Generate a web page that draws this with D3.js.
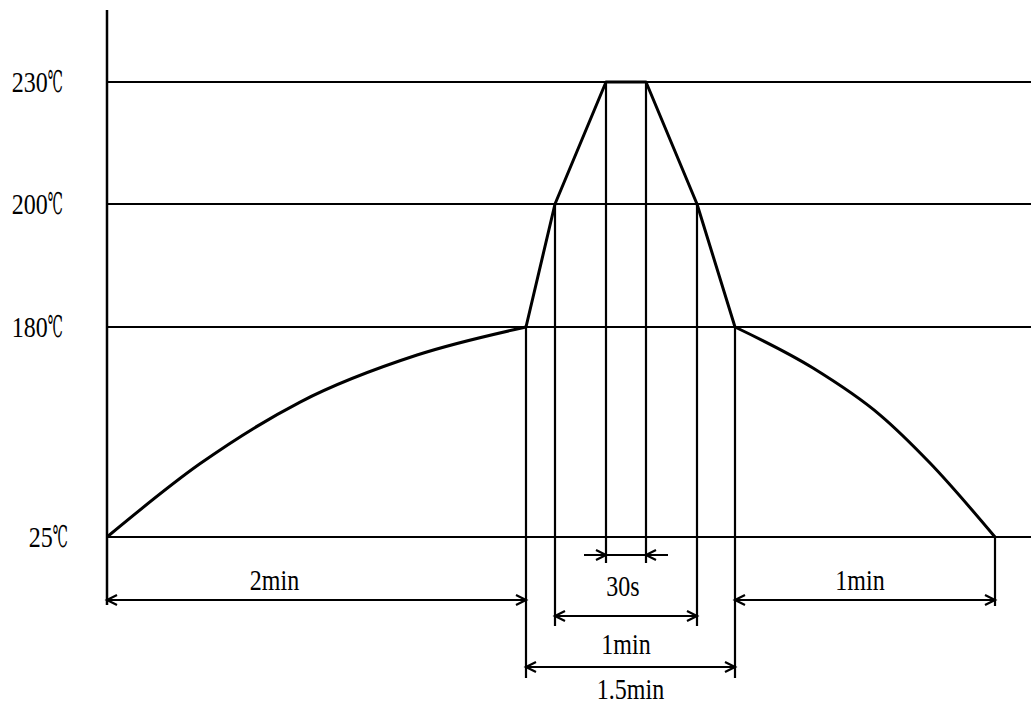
<!DOCTYPE html>
<html>
<head>
<meta charset="utf-8">
<script src="https://cdn.jsdelivr.net/npm/d3@7"></script>
<style>
  html, body { margin: 0; padding: 0; background: #fff; }
  svg { display: block; }
  text { font-family: "Liberation Serif", "DejaVu Serif", serif; fill: #000; }
</style>
</head>
<body>
<svg id="chart" width="1031" height="707"></svg>
<script>
// ---------------- data ----------------
// temperature levels (°C) shown as reference lines
const tempLevels = [230, 200, 180, 25];
const tempLabels = ["230", "200", "180", "25"];
const tempUnit = "℃";

// key times along the profile (seconds)
const keyTimes = [0, 120, 135, 150, 180, 195, 210, 270];

// heating curve 25℃ -> 180℃ over 2 min
const heatTime = [0, 26.6, 55.3, 88.8, 120];
const heatTemp = [25, 79, 124.6, 159.3, 180];

// peak zone (linear segments)
const peakTime = [120, 135, 150, 180, 195, 210];
const peakTemp = [180, 200, 230, 230, 200, 180];

// cooling curve 180℃ -> 25℃ over 1 min
const coolTime = [210, 228, 243.5, 255, 270];
const coolTemp = [180, 149.7, 115, 79.6, 25];

// dimension markers
const dimFrom  = [0, 150, 135, 120, 210];
const dimTo    = [120, 180, 195, 210, 270];
const dimLabel = ["2min", "30s", "1min", "1.5min", "1min"];

// guide lines: time and the temperature where they start
const guideTime = [120, 135, 150, 180, 195, 210, 270];
const guideTemp = [180, 200, 230, 230, 200, 180, 25];

// ---------------- layout ----------------
const W = 1031, H = 707;
const svg = d3.select("#chart");

// schematic (not-to-scale) piecewise scales
const x = d3.scaleLinear().domain(keyTimes).range([107, 526, 555, 606, 646, 697, 735, 995]);
const y = d3.scaleLinear().domain([25, 180, 200, 230]).range([537, 327, 204, 82]);

// dimension rows (pixel y of each arrow) and label placement
const dimRowY   = [600, 555, 616, 667, 600];
const dimLabelDy = [-10, 41, 38, 32, -10];
const dimLabelDx = [-42, -3, 0, 0, -5];
const dimInward = [false, true, false, false, false];
// guide bottoms
const guideBottom = [678, 626, 563, 563, 626, 678, 606];

const fontSize = 30, sx = 0.8;

// horizontal reference lines
svg.append("g").selectAll("line").data(tempLevels).join("line")
  .attr("x1", x(0)).attr("x2", W)
  .attr("y1", d => y(d)).attr("y2", d => y(d))
  .attr("stroke", "#000").attr("stroke-width", 2.2);

// y axis line
svg.append("line")
  .attr("x1", x(0)).attr("x2", x(0))
  .attr("y1", 10).attr("y2", 605)
  .attr("stroke", "#000").attr("stroke-width", 2.5);

// y labels
const yl = svg.append("g").selectAll("text").data(tempLevels).join("text")
  .attr("transform", (d, i) => `translate(${i === 3 ? 68 : 63},${y(d) + 10}) scale(${sx},1)`)
  .attr("text-anchor", "end")
  .attr("font-size", fontSize);
yl.append("tspan").text((d, i) => tempLabels[i]);
yl.append("tspan")
  .attr("textLength", 19).attr("lengthAdjust", "spacingAndGlyphs")
  .text(tempUnit);

// guide verticals
svg.append("g").selectAll("line").data(guideTime).join("line")
  .attr("x1", d => x(d)).attr("x2", d => x(d))
  .attr("y1", (d, i) => y(guideTemp[i]))
  .attr("y2", (d, i) => guideBottom[i])
  .attr("stroke", "#000").attr("stroke-width", 2.2);

// profile
const mk = (ts, vs) => ts.map((t, i) => [t, vs[i]]);
const smooth = d3.line().x(d => x(d[0])).y(d => y(d[1])).curve(d3.curveMonotoneX);
const straight = d3.line().x(d => x(d[0])).y(d => y(d[1]));
svg.append("path").attr("d", smooth(mk(heatTime, heatTemp)))
  .attr("fill", "none").attr("stroke", "#000").attr("stroke-width", 3);
svg.append("path").attr("d", straight(mk(peakTime, peakTemp)))
  .attr("fill", "none").attr("stroke", "#000").attr("stroke-width", 3).attr("stroke-linejoin", "round");
svg.append("path").attr("d", smooth(mk(coolTime, coolTemp)))
  .attr("fill", "none").attr("stroke", "#000").attr("stroke-width", 3);

// dimension arrows
const ah = 10, aw = 5;
function head(g, px, py, dir) { // dir: +1 points right, -1 points left
  g.append("path")
    .attr("d", `M${px - dir * ah},${py - aw} L${px},${py} L${px - dir * ah},${py + aw}`)
    .attr("fill", "none").attr("stroke", "#000").attr("stroke-width", 2.2);
}
const dg = svg.append("g");
dimFrom.forEach((f, i) => {
  const x1 = x(f), x2 = x(dimTo[i]), yy = dimRowY[i];
  if (dimInward[i]) {
    dg.append("line").attr("x1", x1 - 22).attr("x2", x2 + 22).attr("y1", yy).attr("y2", yy)
      .attr("stroke", "#000").attr("stroke-width", 2.2);
    head(dg, x1, yy, 1);
    head(dg, x2, yy, -1);
  } else {
    dg.append("line").attr("x1", x1).attr("x2", x2).attr("y1", yy).attr("y2", yy)
      .attr("stroke", "#000").attr("stroke-width", 2.2);
    head(dg, x1, yy, -1);
    head(dg, x2, yy, 1);
  }
  dg.append("text")
    .attr("transform", `translate(${(x1 + x2) / 2 + dimLabelDx[i]},${yy + dimLabelDy[i]}) scale(${sx},1)`)
    .attr("text-anchor", "middle")
    .attr("font-size", fontSize)
    .text(dimLabel[i]);
});
</script>
</body>
</html>
